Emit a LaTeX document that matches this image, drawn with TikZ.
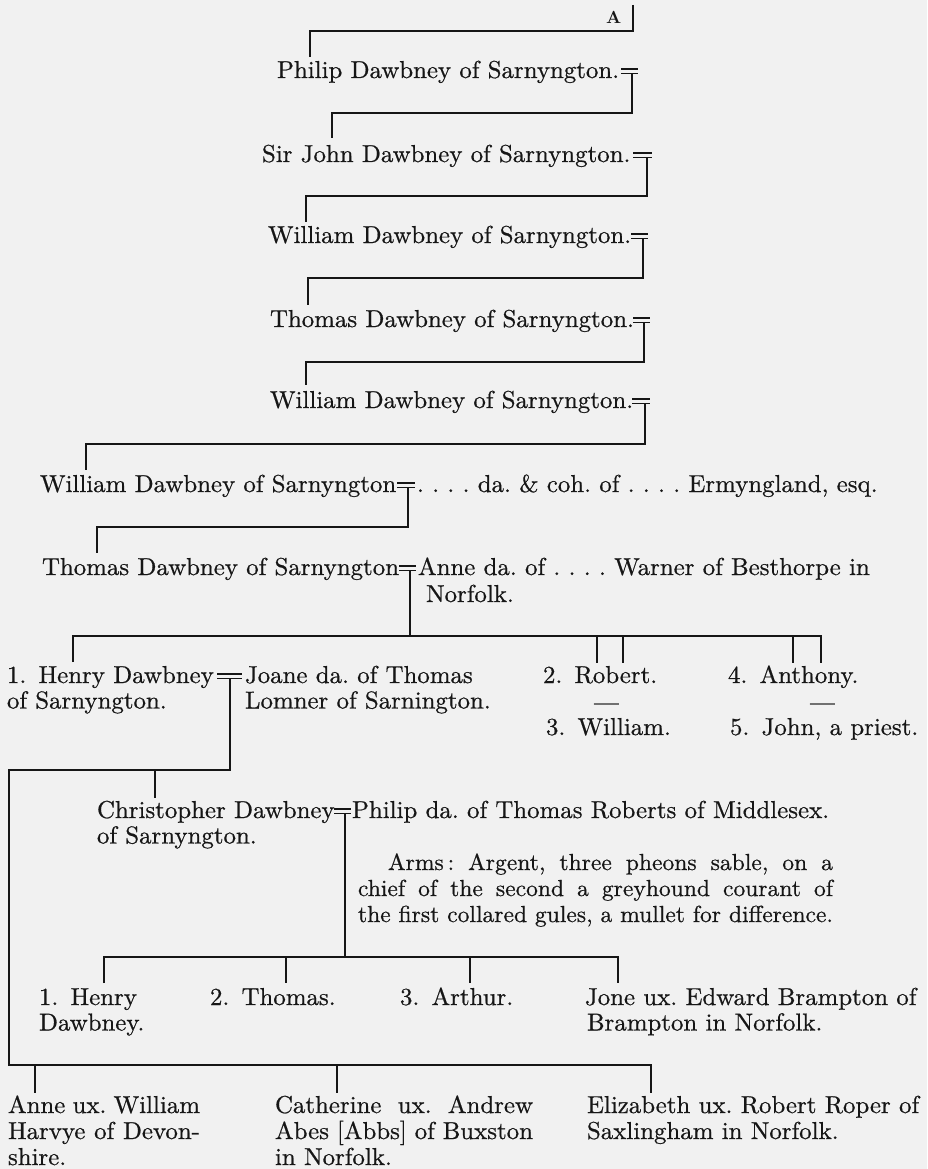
\documentclass[tikz,border=0pt]{standalone}
\usepackage{fontspec}
\setmainfont{lmroman10-regular.otf}[FakeStretch=1.015, FakeBold=0.6]
\newfontfamily\lblfont{lmroman10-bold.otf}
\definecolor{ink}{RGB}{22,22,22}
\definecolor{paper}{RGB}{241,241,241}
\newcommand\mainsz{\fontsize{24.5}{25.5}\selectfont}
\newcommand\armsz{\fontsize{23.2}{26}\selectfont}
\newcommand\lblsz{\lblfont\fontsize{17.5}{17.5}\selectfont}
\newcommand\lns[2][25.5pt]{\vtop{\baselineskip=#1\relax\lineskiplimit=-100pt\lineskip=0pt\halign{##\hfil\cr#2\crcr}}}
\newcommand\wedsym[5]{%
  \coordinate (#1-ul) at (#2,{#4-9});
  \coordinate (#1-ur) at (#3,{#4-9});
  \coordinate (#1-ll) at (#2,{#4-4.5});
  \coordinate (#1-lr) at (#3,{#4-4.5});
  \coordinate (#1-s) at (#5,{#4-4.5});
  \draw[wed] (#1-ul) -- (#1-ur) (#1-ll) -- (#1-lr);
}
\frenchspacing
\tikzset{
  txt/.style={anchor=base west, inner sep=0pt, outer sep=0pt, font=\mainsz, text=ink},
  armstxt/.style={txt, font=\armsz},
  rule/.style={draw=ink, line width=1.5pt},
  wed/.style={draw=ink, line width=1.3pt},
}
\begin{document}
\begin{tikzpicture}[x=1pt,y=-1pt]
\useasboundingbox (0,0) rectangle (927,1169);
\fill[paper] (0,0) rectangle (927,1169);

% ---- top
\node[txt, font=\lblsz] (lblA) at (606,24) {A};
\coordinate (a0) at (633,5);
\coordinate (b0) at (633,31);
\coordinate (t1) at (310,57);
\draw[rule] (a0) -- (b0) -| (t1);

% ---- gen 1
\node[txt] (g1) at (277,78) {Philip Dawbney of Sarnyngton.};
\wedsym{w1}{621}{638}{78}{632}
\coordinate (b1) at (632,113);
\coordinate (t2) at (332,138);
\draw[rule] (w1-s) -- (b1) -| (t2);

% ---- gen 2
\node[txt] (g2) at (262,162) {Sir John Dawbney of Sarnyngton.};
\wedsym{w2}{633}{652}{162}{647}
\coordinate (b2) at (647,196);
\coordinate (t3) at (306,222);
\draw[rule] (w2-s) -- (b2) -| (t3);

% ---- gen 3
\node[txt] (g3) at (268,243) {William Dawbney of Sarnyngton.};
\wedsym{w3}{631}{648}{243}{643}
\coordinate (b3) at (643,278);
\coordinate (t4) at (308,305);
\draw[rule] (w3-s) -- (b3) -| (t4);

% ---- gen 4
\node[txt] (g4) at (270,327) {Thomas Dawbney of Sarnyngton.};
\wedsym{w4}{633}{650}{327}{644}
\coordinate (b4) at (644,362);
\coordinate (t5) at (306,385);
\draw[rule] (w4-s) -- (b4) -| (t5);

% ---- gen 5
\node[txt] (g5) at (270,408) {William Dawbney of Sarnyngton.};
\wedsym{w5}{632}{650}{408}{645}
\coordinate (b5) at (645,444);
\coordinate (t6) at (86,470);
\draw[rule] (w5-s) -- (b5) -| (t6);

% ---- gen 6
\node[txt] (g6) at (40,492) {William Dawbney of Sarnyngton};
\wedsym{w6}{397}{415}{492}{408}
\node[txt] (s6) at (417,492) {. . . . da. \& coh. of . . . . Ermyngland, esq.};
\coordinate (b6) at (408,527);
\coordinate (t7) at (97,553);
\draw[rule] (w6-s) -- (b6) -| (t7);

% ---- gen 7
\node[txt] (g7) at (42,575) {Thomas Dawbney of Sarnyngton};
\wedsym{w7}{399}{416}{575}{410}
\node[txt] (s7) at (418,575) {\lns[27pt]{Anne da. of . . . . Warner of Besthorpe in\cr\hspace*{8pt}Norfolk.}};
\coordinate (b7) at (410,636);
\coordinate (t8a) at (73,662);
\coordinate (t8e) at (821,663);
\coordinate (t8b) at (597,663);
\coordinate (t8c) at (623,663);
\coordinate (t8d) at (793,663);
\draw[rule] (w7-s) -- (b7);
\draw[rule] (t8a) |- (t8e |- b7) -- (t8e);
\draw[rule] (t8b |- b7) -- (t8b);
\draw[rule] (t8c |- b7) -- (t8c);
\draw[rule] (t8d |- b7) -- (t8d);

% ---- gen 8
\node[txt] (g8) at (7,683) {\lns{1.\enspace Henry Dawbney\cr of Sarnyngton.}};
\wedsym{w8}{217}{242}{683}{230}
\node[txt] (s8) at (245,683) {\lns{Joane da. of Thomas\cr Lomner of Sarnington.}};
\node[txt] (r2) at (543,683) {2.\enspace Robert.};
\node[txt] (dsh2) at (594,710.5) {—};
\node[txt] (r3) at (546,735) {3.\enspace William.};
\node[txt] (r4) at (728,683) {4.\enspace Anthony.};
\node[txt] (dsh4) at (810,710.5) {—};
\node[txt] (r5) at (730,735) {5.\enspace John, a priest.};

\coordinate (b8) at (230,770);
\coordinate (b8L) at (9,770);
\coordinate (b10L) at (9,1065);
\coordinate (b10R) at (651,1065);
\coordinate (t9) at (155,798);
\coordinate (t11a) at (35,1093);
\coordinate (t11b) at (337,1093);
\coordinate (t11c) at (651,1093);
\draw[rule] (w8-s) -- (b8) -- (b8L) -- (b10L) -- (b10R) -- (t11c);
\draw[rule] (t9 |- b8) -- (t9);
\draw[rule] (t11a |- b10L) -- (t11a);
\draw[rule] (t11b |- b10L) -- (t11b);

% ---- gen 9
\node[txt] (g9) at (97,818) {\lns{Christopher Dawbney\cr of Sarnyngton.}};
\wedsym{w9}{334}{351}{818}{345}
\node[txt] (s9) at (352,818) {Philip da. of Thomas Roberts of Middlesex.};
\node[armstxt] (arms) at (358,870) {\lns[26pt]{%
  \makebox[475pt][s]{\hspace*{30pt}Arms\,: Argent, three pheons sable, on a}\cr
  \makebox[475pt][s]{chief of the second a greyhound courant of}\cr
  \makebox[475pt][s]{the first collared gules, a mullet for difference.}}};
\coordinate (b9) at (345,957);
\coordinate (t10a) at (104,983);
\coordinate (t10b) at (286,983);
\coordinate (t10c) at (470,983);
\coordinate (t10d) at (618,983);
\draw[rule] (w9-s) -- (b9);
\draw[rule] (t10a) |- (t10d |- b9) -- (t10d);
\draw[rule] (t10b |- b9) -- (t10b);
\draw[rule] (t10c |- b9) -- (t10c);

% ---- gen 10
\node[txt] (c1) at (39,1005) {\lns{1.\enspace Henry\cr Dawbney.}};
\node[txt] (c2) at (210,1005) {2.\enspace Thomas.};
\node[txt] (c3) at (400,1005) {3.\enspace Arthur.};
\node[txt] (c4) at (585,1005) {\lns{Jone ux. Edward Brampton of\cr\hspace*{2pt}Brampton in Norfolk.}};

% ---- daughters
\node[txt] (dA) at (8,1113) {\lns[26pt]{\makebox[192pt][s]{Anne ux. William}\cr
  \makebox[192pt][s]{Harvye of Devon-}\cr shire.}};
\node[txt] (dC) at (275,1113) {\lns[26pt]{\makebox[258pt][s]{Catherine ux. Andrew}\cr
  \makebox[258pt][s]{Abes [Abbs] of Buxston}\cr in Norfolk.}};
\node[txt] (dE) at (587,1113) {\lns[26pt]{Elizabeth ux. Robert Roper of\cr Saxlingham in Norfolk.}};
\end{tikzpicture}
\end{document}
